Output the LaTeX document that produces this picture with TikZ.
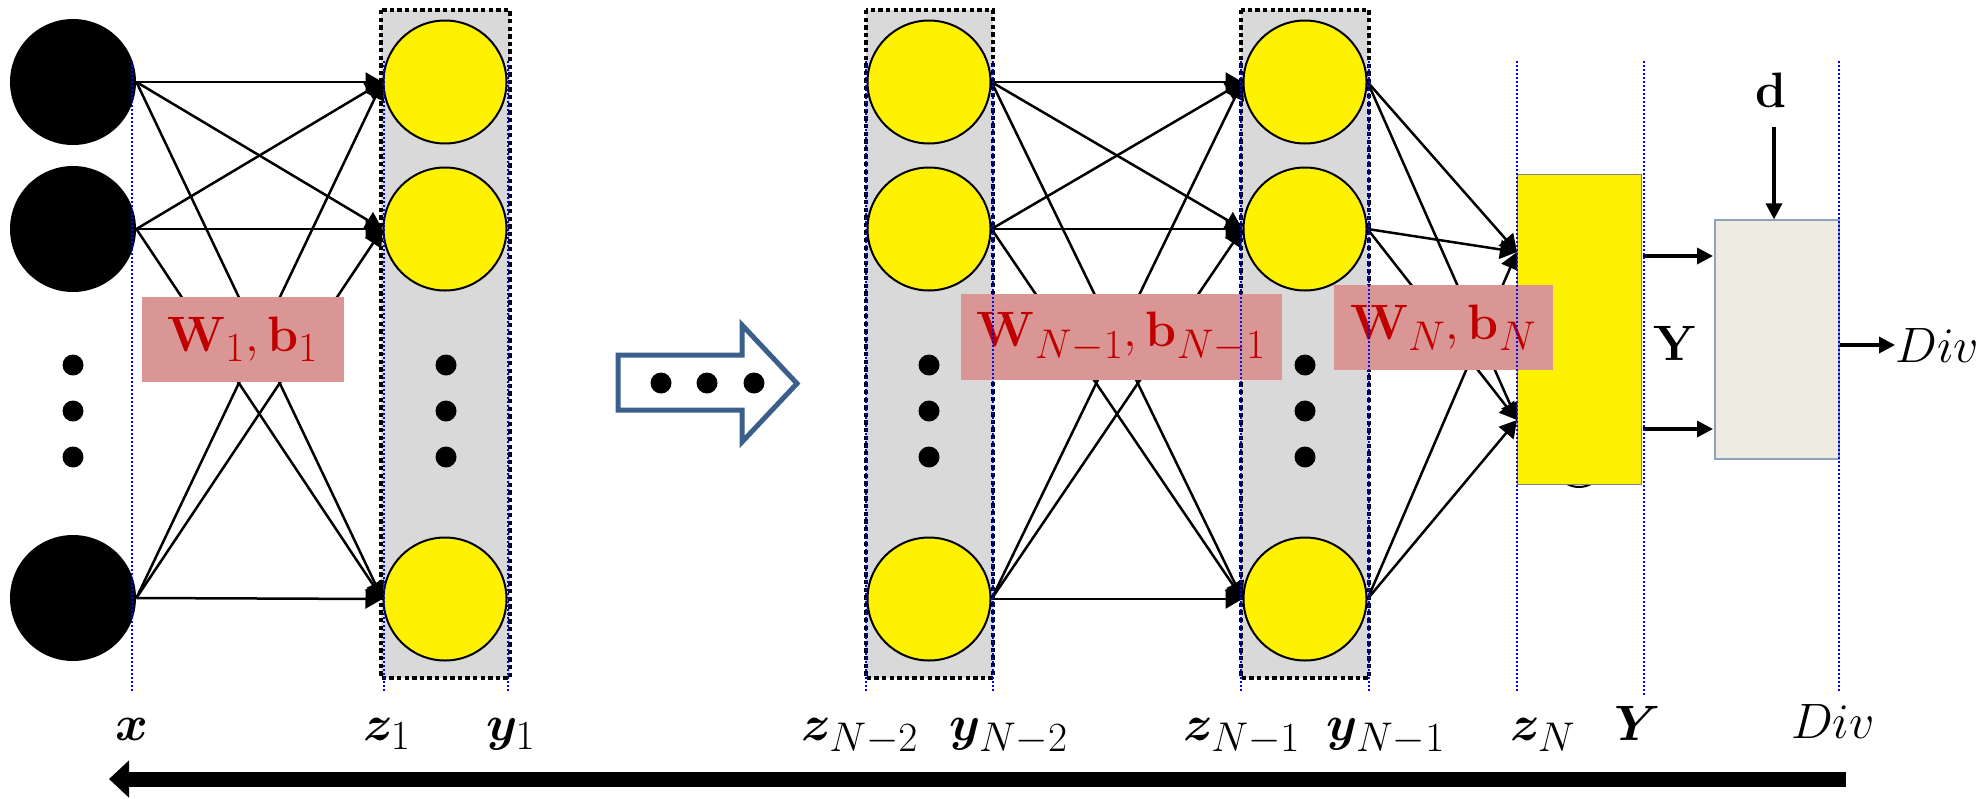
\documentclass[tikz,border=0pt]{standalone}
\usepackage{amsmath,bm}
\usetikzlibrary{arrows.meta}
\definecolor{lgray}{HTML}{D9D9D9}
\definecolor{pinkbox}{HTML}{D99694}
\definecolor{darkred}{HTML}{C00000}
\definecolor{beige}{HTML}{EEECE1}
\definecolor{steel}{HTML}{3A5F8B}
\definecolor{beigeline}{HTML}{8EA2C0}
\pgfdeclarelayer{bg}
\pgfdeclarelayer{conn}
\pgfsetlayers{bg,conn,main}
\tikzset{
  inputnode/.style={circle, fill=black, minimum size=63pt, inner sep=0pt},
  hidnode/.style={circle, draw=black, line width=1pt, fill=yellow, minimum size=61.5pt, inner sep=0pt},
  layerbox/.style={fill=lgray, draw=black, line width=2pt, dash pattern=on 2.2pt off 1.6pt},
  guide/.style={draw=blue, line width=1pt, dash pattern=on 1pt off 1pt},
  conn/.style={line width=1.25pt, -{Triangle[length=8.5pt,width=9.5pt]}},
  fatarrow/.style={line width=1.7pt, -{Triangle[length=8pt,width=8pt]}},
  wlabel/.style={fill=pinkbox, text=darkred, inner sep=0pt, font=\fontsize{24.88}{28}\selectfont},
  varlabel/.style={font=\fontsize{24.88}{30}\selectfont, inner sep=0pt, anchor=base},
  dotmark/.style={circle, fill=black, minimum size=10.5pt, inner sep=0pt},
}
\begin{document}
\begin{tikzpicture}[x=0.5pt, y=-0.5pt]
\useasboundingbox (0,0) rectangle (1980,798);

% layer boxes
\begin{pgfonlayer}{bg}
\draw[layerbox] (381,10) rectangle (510,678);
\draw[layerbox] (866,10) rectangle (993,678);
\draw[layerbox] (1241,10) rectangle (1369,678);
\end{pgfonlayer}

% input nodes
\node[inputnode] (in1) at (73,82) {};
\node[inputnode] (in2) at (73,229) {};
\node[inputnode] (in3) at (73,598) {};
\node[dotmark] at (73,365) {};
\node[dotmark] at (73,411) {};
\node[dotmark] at (73,457) {};

% layer 1
\node[hidnode] (a1) at (445,82) {};
\node[hidnode] (a2) at (445,229) {};
\node[hidnode] (a3) at (445,599) {};
\node[dotmark] at (446,365) {};
\node[dotmark] at (446,411) {};
\node[dotmark] at (446,457) {};

% layer N-2
\node[hidnode] (b1) at (929,82) {};
\node[hidnode] (b2) at (929,229) {};
\node[hidnode] (b3) at (929,599) {};
\node[dotmark] at (929,365) {};
\node[dotmark] at (929,411) {};
\node[dotmark] at (929,457) {};

% layer N-1
\node[hidnode] (c1) at (1305,82) {};
\node[hidnode] (c2) at (1305,229) {};
\node[hidnode] (c3) at (1305,599) {};
\node[dotmark] at (1305,365) {};
\node[dotmark] at (1305,411) {};
\node[dotmark] at (1305,457) {};

% output block and loss block
\draw[line width=1pt] (1567,484) .. controls (1575,488) and (1583,488) .. (1591,484);
\node[draw=gray, line width=0.5pt, fill=yellow, minimum width=62pt, minimum height=155pt, inner sep=0pt] (outN) at (1579,329) {};
\node[draw=beigeline, line width=0.6pt, fill=beige, minimum width=62pt, minimum height=119.5pt, inner sep=0pt] (loss) at (1777,339.5) {};
\coordinate (t1) at (1517,252);
\coordinate (t2) at (1517,420);

% connections
\begin{pgfonlayer}{conn}
\foreach \s in {1,2,3}{
  \foreach \t in {1,2,3}{
    \draw[conn] (in\s.east) -- (a\t.west);
    \draw[conn] (b\s.east) -- (c\t.west);
  }
  \draw[conn] (c\s.east) -- (t1);
  \draw[conn] (c\s.east) -- (t2);
}
\end{pgfonlayer}

% weight labels
\node[wlabel, minimum width=101pt, minimum height=42.5pt] (w1) at (243,339.5) {$\mathbf{W}_1,\mathbf{b}_1$};
\node[wlabel, minimum width=160.5pt, minimum height=43pt] (w2) at (1121.5,337) {$\mathbf{W}_{N-1},\mathbf{b}_{N-1}$};
\node[wlabel, minimum width=109.5pt, minimum height=42.5pt] (w3) at (1443.5,327.5) {$\mathbf{W}_{N},\mathbf{b}_{N}$};

% Y arrows
\coordinate (ya1) at (1643,256);
\coordinate (yb1) at (1713,256);
\coordinate (ya2) at (1643,429);
\coordinate (yb2) at (1713,429);
\draw[fatarrow] (ya1) -- (yb1);
\draw[fatarrow] (ya2) -- (yb2);
\node[font=\fontsize{24.88}{28}\selectfont, inner sep=0pt] (ymid) at (1675,343) {$\mathbf{Y}$};

% d input
\node[font=\fontsize{24.88}{28}\selectfont, inner sep=0pt, anchor=base] (dlab) at (1771,107) {$\mathbf{d}$};
\coordinate (dtop) at (1774,127);
\draw[fatarrow] (dtop) -- (dtop |- loss.north);

% Div output
\node[font=\fontsize{24.88}{28}\selectfont, inner sep=0pt, anchor=west] (divout) at (1895,345) {$Div$};
\draw[fatarrow] (loss.east |- divout.west) -- (divout.west);

% guide lines
\foreach \gx in {132,384,508,866,993,1241,1369,1517,1839}{
  \draw[guide] (\gx,61) -- (\gx,692);
}
\draw[guide] (1644,61) -- (1644,697);

% "..." hollow arrow
\draw[steel, line width=2.5pt, fill=white, line join=miter]
  (618,355) -- (742,355) -- (742,325) -- (797,383.5) -- (742,442) -- (742,410) -- (618,410) -- cycle;
\node[dotmark] at (661,383) {};
\node[dotmark] at (707,383) {};
\node[dotmark] at (754,383) {};

% bottom labels
\node[varlabel] (lx) at (132,740) {$\bm{x}$};
\node[varlabel] (lz1) at (387,740) {$\bm{z}_1$};
\node[varlabel] (ly1) at (511,740) {$\bm{y}_1$};
\node[varlabel] (lzn2) at (860,740) {$\bm{z}_{N-2}$};
\node[varlabel] (lyn2) at (1009,740) {$\bm{y}_{N-2}$};
\node[varlabel] (lzn1) at (1242,740) {$\bm{z}_{N-1}$};
\node[varlabel] (lyn1) at (1386,740) {$\bm{y}_{N-1}$};
\node[varlabel] (lzn) at (1543,740) {$\bm{z}_{N}$};
\node[varlabel] (lY) at (1638,740) {$\bm{Y}$};
\node[varlabel] (ldiv) at (1833,738) {$Div$};

% backward arrow
\coordinate (bstart) at (1846,779);
\coordinate (bend) at (109,779);
\draw[line width=7.5pt, -{Triangle[length=10pt,width=18pt]}] (bstart) -- (bend);
\end{tikzpicture}
\end{document}
